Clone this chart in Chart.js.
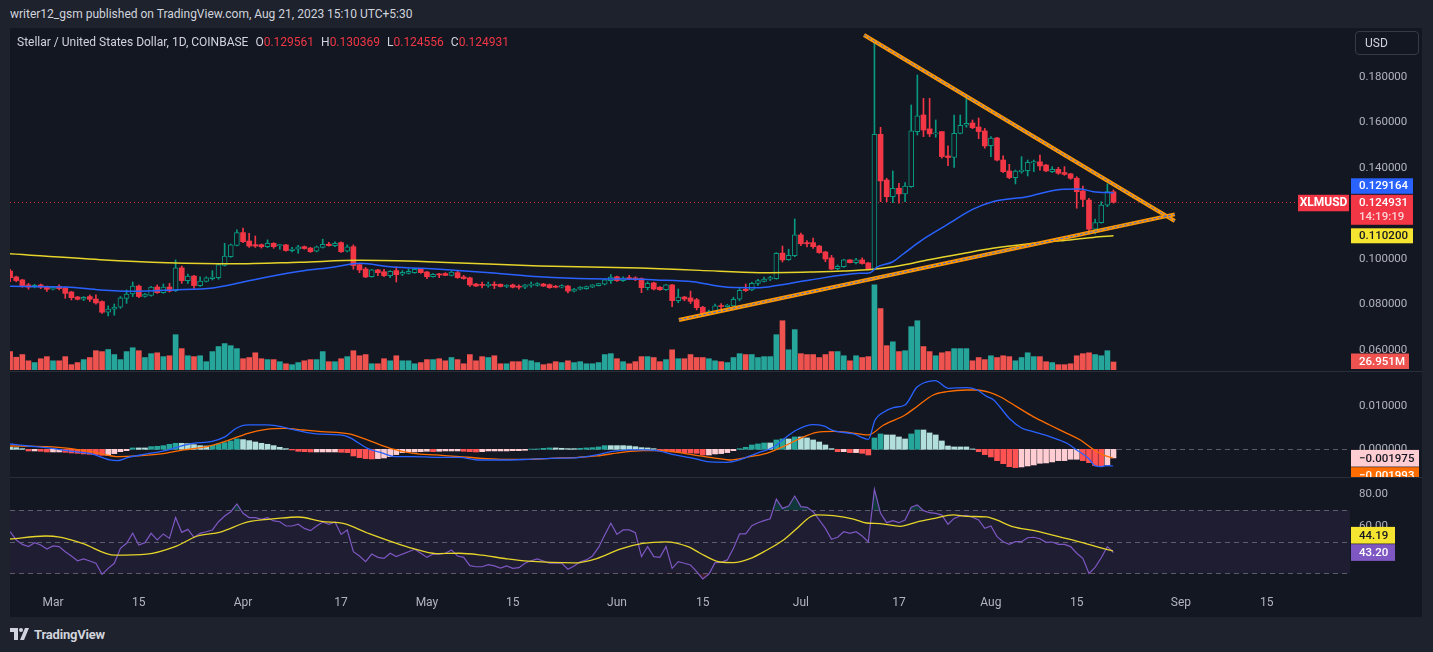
<!DOCTYPE html>
<html>
<head>
<meta charset="utf-8">
<title>XLMUSD 1D</title>
<script src="https://cdn.jsdelivr.net/npm/chart.js@4.4.1/dist/chart.umd.min.js"></script>
<style>
  html, body { margin: 0; padding: 0; }
  body { width: 1433px; height: 652px; background: #1e222d; position: relative; overflow: hidden;
         font-family: Roboto, "Liberation Sans", sans-serif; }
  #published { position: absolute; left: 10px; top: 5px; font-size: 12px; line-height: 18px; color: #d1d4dc; }
  #frame { position: absolute; left: 10px; top: 28px; width: 1412px; height: 589px; background: #131722; }
  #frame canvas { position: absolute; left: 0; }
  .sep { position: absolute; left: 0; width: 1412px; height: 1px; background: #2a2e39; }
  #legend { position: absolute; left: 7px; top: 6px; font-size: 12px; line-height: 16px; color: #d1d4dc; white-space: nowrap; }
  #legend .v { color: #f23645; }
  #legend .g { margin-left: 7px; }
  #usd { position: absolute; left: 1345px; top: 3px; width: 64px; height: 24px; box-sizing: border-box;
         border: 1px solid #363a45; border-radius: 4px; color: #d1d4dc; font-size: 12px; line-height: 22px; padding-left: 9px; }
  #brand { position: absolute; left: 10px; top: 626px; height: 16px; display: flex; align-items: center;
           color: #d1d4dc; font-size: 13px; font-weight: 700; letter-spacing: -0.2px; }
  #brand svg { margin-right: 4px; }
</style>
</head>
<body>
<div id="published">writer12_gsm published on TradingView.com, Aug 21, 2023 15:10 UTC+5:30</div>
<div id="frame">
  <canvas id="mainChart" width="1412" height="342" style="top:0"></canvas>
  <div class="sep" style="top:343px"></div>
  <canvas id="macdChart" width="1412" height="105" style="top:344px"></canvas>
  <div class="sep" style="top:449px"></div>
  <canvas id="rsiChart" width="1412" height="139" style="top:450px"></canvas>
  <div id="legend">Stellar / United States Dollar, 1D, COINBASE<span class="g">O<span class="v">0.129561</span></span><span class="g">H<span class="v">0.130369</span></span><span class="g">L<span class="v">0.124556</span></span><span class="g">C<span class="v">0.124931</span></span></div>
  <div id="usd">USD</div>
</div>
<div id="brand"><svg width="20" height="12" viewBox="0 0 20 12"><rect x="0" y="0" width="8" height="4" fill="#d1d4dc"/><rect x="4" y="0" width="4" height="12" fill="#d1d4dc"/><circle cx="11" cy="2" r="2" fill="#d1d4dc"/><polygon points="15,0 19,0 14,12 10,12" fill="#d1d4dc"/></svg>TradingView</div>

<script>
// days are counted from Mar 1 2023; first candle is Feb 22
const firstDay = -7;

const opens = [
  0.0947,0.0921,0.0908,0.0886,0.0876,0.0886,0.0879,0.0867,0.0880,0.0873,
  0.0855,0.0833,0.0823,0.0835,0.0824,0.0813,0.0766,0.0779,0.0788,0.0827,
  0.0846,0.0881,0.0836,0.0840,0.0877,0.0852,0.0877,0.0861,0.0961,0.0905,
  0.0925,0.0883,0.0902,0.0914,0.0918,0.0972,0.1010,0.1060,0.1116,0.1079,
  0.1063,0.1063,0.1054,0.1069,0.1059,0.1062,0.1037,0.1043,0.1054,0.1048,
  0.1034,0.1051,0.1065,0.1059,0.1072,0.1034,0.1054,0.0975,0.0956,0.0922,
  0.0952,0.0944,0.0927,0.0949,0.0933,0.0937,0.0940,0.0955,0.0943,0.0922,
  0.0934,0.0936,0.0928,0.0940,0.0921,0.0917,0.0890,0.0887,0.0883,0.0889,
  0.0889,0.0879,0.0886,0.0879,0.0876,0.0884,0.0884,0.0890,0.0887,0.0880,
  0.0876,0.0881,0.0859,0.0867,0.0870,0.0876,0.0883,0.0889,0.0905,0.0922,
  0.0905,0.0918,0.0917,0.0914,0.0874,0.0895,0.0876,0.0865,0.0886,0.0817,
  0.0833,0.0829,0.0821,0.0788,0.0761,0.0769,0.0794,0.0791,0.0794,0.0823,
  0.0867,0.0864,0.0893,0.0902,0.0911,0.0914,0.1026,0.0997,0.1015,0.1106,
  0.1072,0.1072,0.1057,0.1031,0.1005,0.0958,0.0966,0.0996,0.0984,0.0996,
  0.0983,0.0955,0.1548,0.1347,0.1274,0.1311,0.1286,0.1318,0.1560,0.1633,
  0.1572,0.1550,0.1560,0.1453,0.1446,0.1552,0.1588,0.1598,0.1580,0.1563,
  0.1498,0.1532,0.1435,0.1387,0.1358,0.1384,0.1388,0.1422,0.1427,0.1413,
  0.1384,0.1394,0.1380,0.1374,0.1355,0.1299,0.1259,0.1131,0.1160,0.1237,0.129561
];
const highs = [
  0.0955,0.0925,0.0911,0.0893,0.0889,0.0890,0.0881,0.0880,0.0887,0.0876,
  0.0858,0.0836,0.0835,0.0842,0.0842,0.0816,0.0794,0.0802,0.0835,0.0864,
  0.0899,0.0886,0.0849,0.0880,0.0886,0.0890,0.0893,0.0996,0.0969,0.0934,
  0.0928,0.0922,0.0922,0.0949,0.0981,0.1069,0.1066,0.1128,0.1136,0.1113,
  0.1101,0.1066,0.1084,0.1072,0.1065,0.1065,0.1051,0.1060,0.1057,0.1051,
  0.1057,0.1087,0.1073,0.1076,0.1075,0.1062,0.1062,0.0981,0.0963,0.0955,
  0.0955,0.0955,0.0949,0.0966,0.0949,0.0956,0.0958,0.0958,0.0946,0.0936,
  0.0937,0.0940,0.0946,0.0946,0.0928,0.0920,0.0893,0.0899,0.0899,0.0900,
  0.0890,0.0887,0.0890,0.0887,0.0889,0.0899,0.0896,0.0893,0.0890,0.0884,
  0.0887,0.0884,0.0871,0.0879,0.0881,0.0887,0.0893,0.0911,0.0931,0.0925,
  0.0922,0.0928,0.0922,0.0917,0.0900,0.0898,0.0879,0.0889,0.0889,0.0868,
  0.0836,0.0859,0.0827,0.0792,0.0776,0.0802,0.0804,0.0801,0.0832,0.0870,
  0.0890,0.0898,0.0911,0.0920,0.0924,0.1028,0.1057,0.1043,0.1176,0.1114,
  0.1081,0.1092,0.1060,0.1034,0.1016,0.0974,0.0999,0.0997,0.1003,0.1005,
  0.0985,0.1955,0.1579,0.1355,0.1387,0.1333,0.1336,0.1677,0.1809,0.1706,
  0.1706,0.1611,0.1560,0.1497,0.1633,0.1633,0.1706,0.1611,0.1620,0.1574,
  0.1538,0.1535,0.1453,0.1416,0.1391,0.1450,0.1435,0.1435,0.1457,0.1416,
  0.1406,0.1403,0.1406,0.1377,0.1362,0.1321,0.1267,0.1175,0.1252,0.1330,0.130369
];
const lows = [
  0.0900,0.0900,0.0876,0.0867,0.0873,0.0870,0.0857,0.0864,0.0864,0.0827,
  0.0820,0.0820,0.0817,0.0813,0.0802,0.0761,0.0750,0.0753,0.0783,0.0805,
  0.0835,0.0830,0.0832,0.0837,0.0849,0.0849,0.0855,0.0857,0.0893,0.0893,
  0.0871,0.0880,0.0899,0.0908,0.0911,0.0969,0.1007,0.1057,0.1072,0.1051,
  0.1051,0.1048,0.1050,0.1047,0.1043,0.1034,0.1031,0.1025,0.1043,0.1029,
  0.1031,0.1048,0.1056,0.1054,0.1029,0.1031,0.0955,0.0940,0.0918,0.0920,
  0.0927,0.0922,0.0918,0.0899,0.0927,0.0934,0.0937,0.0937,0.0914,0.0920,
  0.0918,0.0927,0.0925,0.0915,0.0911,0.0879,0.0879,0.0873,0.0876,0.0870,
  0.0877,0.0874,0.0873,0.0867,0.0870,0.0876,0.0881,0.0879,0.0871,0.0873,
  0.0873,0.0851,0.0855,0.0864,0.0867,0.0874,0.0881,0.0886,0.0893,0.0902,
  0.0902,0.0909,0.0905,0.0852,0.0864,0.0864,0.0862,0.0862,0.0791,0.0808,
  0.0816,0.0804,0.0776,0.0751,0.0754,0.0766,0.0779,0.0788,0.0791,0.0817,
  0.0857,0.0861,0.0884,0.0899,0.0905,0.0911,0.0987,0.0994,0.1010,0.1059,
  0.1053,0.1046,0.1025,0.0988,0.0953,0.0952,0.0963,0.0983,0.0978,0.0977,
  0.0953,0.0952,0.1252,0.1252,0.1248,0.1245,0.1252,0.1315,0.1545,0.1538,
  0.1538,0.1535,0.1443,0.1410,0.1403,0.1550,0.1579,0.1573,0.1529,0.1487,
  0.1450,0.1431,0.1380,0.1353,0.1330,0.1377,0.1365,0.1384,0.1391,0.1384,
  0.1380,0.1372,0.1368,0.1350,0.1223,0.1230,0.1110,0.1110,0.1157,0.1230,0.124556
];
const closes = [
  0.0918,0.0905,0.0883,0.0876,0.0884,0.0876,0.0867,0.0877,0.0870,0.0849,
  0.0830,0.0823,0.0832,0.0823,0.0807,0.0766,0.0780,0.0789,0.0829,0.0846,
  0.0881,0.0835,0.0846,0.0877,0.0852,0.0877,0.0859,0.0961,0.0905,0.0925,
  0.0883,0.0903,0.0917,0.0921,0.0975,0.1013,0.1062,0.1116,0.1076,0.1057,
  0.1057,0.1054,0.1069,0.1054,0.1062,0.1037,0.1044,0.1053,0.1046,0.1032,
  0.1054,0.1065,0.1059,0.1069,0.1032,0.1054,0.0971,0.0952,0.0921,0.0952,
  0.0940,0.0927,0.0946,0.0931,0.0941,0.0946,0.0955,0.0940,0.0922,0.0933,
  0.0930,0.0928,0.0943,0.0918,0.0914,0.0886,0.0881,0.0884,0.0889,0.0884,
  0.0879,0.0884,0.0876,0.0876,0.0886,0.0889,0.0892,0.0881,0.0874,0.0876,
  0.0883,0.0859,0.0868,0.0877,0.0879,0.0886,0.0892,0.0908,0.0921,0.0905,
  0.0917,0.0912,0.0909,0.0874,0.0893,0.0868,0.0865,0.0886,0.0817,0.0833,
  0.0824,0.0814,0.0786,0.0754,0.0769,0.0794,0.0791,0.0798,0.0823,0.0862,
  0.0861,0.0893,0.0905,0.0912,0.0918,0.1025,0.0996,0.1016,0.1106,0.1067,
  0.1067,0.1054,0.1028,0.1000,0.0956,0.0968,0.0996,0.0984,0.0996,0.0980,
  0.0956,0.1548,0.1343,0.1274,0.1311,0.1286,0.1321,0.1563,0.1629,0.1567,
  0.1550,0.1555,0.1450,0.1446,0.1552,0.1588,0.1596,0.1577,0.1560,0.1497,
  0.1531,0.1435,0.1384,0.1358,0.1387,0.1391,0.1425,0.1428,0.1409,0.1387,
  0.1394,0.1377,0.1372,0.1355,0.1296,0.1262,0.1131,0.1160,0.1237,0.1296,0.124931
];
// volume, millions
const volumes = [
  62,43,52,31,25,38,45,31,31,45, 18,25,35,42,65,62,69,52,35,62,
  75,65,42,55,58,45,48,119,72,48, 45,48,28,62,79,89,82,72,38,42,
  58,38,35,35,28,21,18,25,31,35, 35,62,28,28,38,45,65,48,52,21,
  21,38,31,48,31,31,21,25,35,35, 38,31,42,35,21,52,31,45,42,48,
  21,21,28,28,35,31,25,18,21,28, 25,31,25,28,21,21,25,52,55,38,
  28,21,28,45,45,42,28,35,68,38, 38,52,42,42,38,31,28,25,42,55,
  52,52,42,45,45,119,166,68,136,55, 52,52,42,52,62,62,48,31,48,42,
  45,287,207,82,95,62,65,146,166,79, 62,48,58,62,72,72,72,31,42,35,
  48,42,48,45,31,42,58,45,45,28, 25,18,18,21,48,55,58,52,48,65, 26.951
];

// moving averages on price, [day, value]
const maBlue = [[-7,0.0880],[2.2,0.0877],[7.7,0.0864],[13.1,0.0858],[19.6,0.0864],[26.1,0.0873],[29.4,0.0889],
  [32.6,0.0908],[40.3,0.0946],[45.7,0.0964],[50.1,0.0981],[55,0.0966],[63.1,0.0955],[71.3,0.0940],[79.4,0.0922],
  [87.6,0.0913],[93,0.0912],[98.5,0.0908],[104.4,0.0900],[110,0.0876],[115.3,0.0874],[118.1,0.0884],[123.5,0.0908],
  [131.6,0.0937],[133.3,0.0940],[134.4,0.0964],[137,0.0988],[138.7,0.1022],[141.4,0.1076],[142.6,0.1098],
  [145.8,0.1150],[150.1,0.1219],[153.3,0.1252],[158.9,0.1274],[164.3,0.1306],[167.5,0.1308],[169.7,0.1296],[173,0.129164]];
const maYellow = [[-7,0.1023],[7.7,0.0997],[18.6,0.0984],[29.4,0.0979],[40.3,0.0986],[50.1,0.0994],[63.1,0.0986],
  [79.4,0.0969],[95.8,0.0960],[105.5,0.0950],[115.3,0.0940],[123.5,0.0943],[128.9,0.0947],[133.8,0.0955],
  [138.7,0.0974],[142.6,0.0996],[148,0.1022],[153.3,0.1047],[158.9,0.1066],[164.3,0.1080],[169.7,0.1095],[173,0.1102]];

// hand drawn trend lines, [day, price]
const trendUpper = [[132.3,0.1985],[183,0.1167]];
const trendLower = [[102.1,0.0732],[183,0.1196]];

// MACD, in units of 1e-4
const macdHist = [
  4.6,3.8,1.5,-3.8,-3.8,-4.6,-6.1,
  -6.1,-6.1,-6.9,-8.4,-9.2,-10.7,-11.5,-12.2,-13.8,-13.8,
  -9.9,-5.4,-3.1,3.1,3.1,3.1,6.1,6.9,8.4,11.5,
  13.8,13.8,13,10.7,8.4,7.6,9.2,12.2,15.3,19.1,
  23.7,22.2,19.9,16.8,13.8,11.5,8.4,4.6,1.5,-1.5,
  -4.6,-5.4,-6.1,-6.1,-6.1,-6.1,-6.1,-6.9,-7.6,-15.3,
  -19.1,-21.4,-22.2,-21.4,-19.9,-16.8,-12.2,-7.6,-6.1,-6.1,
  -5.4,-4.6,-5.4,-4.6,-3.8,-3.8,-3.8,-4.6,-5.4,-6.1,
  -5.4,-3.8,-3.8,-3.8,-3.8,-3.1,-3.1,-2.3,0.5,0.8,
  2.3,3.1,3.1,2.3,1.5,1.5,2.3,3.1,3.8,5.4,
  8.4,8.4,8.4,8.4,7.6,6.1,3.8,3.1,1.5,-3.8,
  -4.6,-6.1,-6.9,-7.6,-8.4,-9.2,-13,-13,-10.7,-9.9,
  -7.6,-3.1,1.5,4.6,9.9,12.2,14.5,14.5,21.4,23.7,
  23.7,28.3,28.3,26,21.4,16.8,9.9,1.5,-5.4,-5.4,
  -7.6,-7.6,-9.2,-13,26,35.2,32.9,32.9,28.3,23.7,
  35.2,44.3,44.3,37.5,32.9,19.1,7.6,5.4,5.4,5.4,
  0.8,-5.4,-12.2,-17.6,-26,-32.9,-39.8,-42,-40.5,-38.2,
  -35.9,-32.1,-31.3,-29,-26,-26,-22.9,-22.9,-26,-30.6,
  -37.5,-38.2,-35.2,-19.75
];
const macdLine = [[-7,12.2],[-4.1,7.6],[-1.2,3.8],[2.6,-3.8],[6.3,-10.7],[9.3,-24.5],[10.5,-26],[12.3,-18.3],
  [15.3,-10.7],[18.3,-3.1],[20.6,6.1],[22.8,13.8],[25.8,17.6],[28.1,29],[29.9,48.2],[31.8,55.8],[34.8,55.8],
  [36.3,54.3],[40,42.8],[43,35.2],[46.8,32.9],[48.3,27.5],[51.3,2.3],[53.5,-7.6],[55.8,-16.8],[58.8,-16.8],
  [62.5,-18.3],[66.3,-18.3],[69.3,-24.5],[73.7,-24.5],[77.5,-23],[81.2,-20.6],[85.7,-19.1],[88.7,-13],[91,-5.4],
  [94,-1.5],[96.2,-1.5],[98.5,-3.1],[101.5,-13],[104.5,-20.6],[106.7,-28.3],[109.9,-29.8],[112.1,-23.7],
  [114.8,-9.2],[117.5,4.6],[119.7,29],[121.3,44.3],[124,56.6],[125.7,53.5],[127.3,42.8],[130.6,35.2],[133,22.9],
  [134.1,67.3],[135.2,82.6],[137.1,95.6],[139,101.7],[140.9,142.2],[142.3,153.7],[143.9,157.5],[146.1,139.9],
  [149,141.4],[150.7,136.6],[152.3,121.3],[153.4,113.7],[156.1,69.5],[158,48.9],[159.9,40.5],[162.6,29],
  [165.4,13.8],[167,-1.5],[168.9,-20.6],[170,-38.2],[171,-39.8],[171.9,-37.5],[172.9,-38.2]];
const signalLine = [[-7,7.6],[-1.2,6.1],[2.6,2.3],[6.3,-5.4],[10.8,-16.8],[13.8,-15.3],[17.6,-10.7],[21.3,-1.5],
  [25.1,6.1],[28.8,21.4],[31.8,36.7],[34.8,45.9],[37.8,48.2],[40.8,44.3],[43.8,40.5],[48.3,35.2],[51.3,21.4],
  [55,2.3],[58.8,-9.2],[62.5,-13],[66.3,-16.8],[70,-20.6],[73.7,-23],[77.5,-23],[81.2,-20.6],[85.7,-18.3],
  [88.7,-15.3],[92.5,-7.6],[96.2,-3.1],[99.2,-3.1],[102.2,-7.6],[105.5,-15.3],[108.3,-20.6],[110.4,-24.5],
  [113.7,-16.8],[116.4,-9.2],[119.1,6.1],[121.9,25.2],[124.6,39],[127.3,41.3],[130,38.2],[133,32.9],[135.5,55.8],
  [139,78.7],[140.9,97.8],[143.6,124.6],[145.8,132.2],[149,136],[150.7,136],[152.9,130],[154.5,120.6],
  [157.2,97.8],[159.9,74.9],[162.6,55.8],[165.4,36.7],[167.6,21.4],[169.7,0],[171.3,-13],[172.9,-19.93]];

// RSI, one value per candle
const rsi = [
  56.3,51.1,48.3,46.9,49.4,47.9,45.4,
  47.3,46.9,43.7,41,38,39.1,37.8,36.4,29.4,33.2,
  36.4,45.8,49,55.3,47.9,49.4,55.3,51.1,54.9,52.1,
  65.2,55.9,57.8,52.8,55.3,56.3,57.4,62.6,66.2,68.9,
  73.8,67.9,65.2,65.2,64.1,65.2,63.1,62.6,59.9,59.9,
  61,58.4,57,59.9,62.4,61,62.4,54.6,57.4,43.7,
  41,37.4,42.2,40.1,39.5,42.7,40.6,42.2,43.7,45.2,
  42.7,40.1,42.2,42.2,42.7,44.8,41,40.1,34.9,34.2,
  34.2,35.5,34.7,33.4,34.7,33.2,33.6,36.4,38,39.1,
  37.8,36.4,36.4,36.4,32.6,34.7,37.4,38.5,41,46.4,
  54.2,61.6,54.6,57.4,57.4,55.7,40.6,46.9,40.6,40.1,
  46.9,33.2,37.4,36.4,35.3,31.1,26.5,29.6,36.8,37,
  38.5,45.8,54.9,54.9,60.1,62,63.3,64.5,76.9,71,
  72.5,78.8,72.1,71.7,68.9,63.7,58.4,51.5,52.8,56.3,
  55.3,56.3,53.6,49.8,83,67.9,62,63.3,62,63.7,
  71.7,73.2,69.6,68.3,67.9,66.8,61,64.7,66.2,66.6,
  65.4,63.7,58.4,59.9,53.2,50,48.3,50,50,52.5,
  52.8,51.9,49.6,49.8,48.3,48.3,46.9,42.7,39.5,30,
  33.8,39.9,46.9,43.2
];
const rsiMa = [[-7,51.7],[-1.2,53.6],[1.1,52.9],[4.8,48.9],[10.1,41.5],[15.3,42.1],[19.8,46.7],[23.6,53.6],
  [27.3,56.1],[31.8,62.5],[36.3,64.5],[40,65.6],[43.8,62.8],[47.5,61.4],[51.3,55.5],[58.8,45.6],[62.5,42.5],
  [66.3,42.7],[70,41.5],[73.7,39.4],[77.5,37.7],[85,36.6],[88.7,39.4],[92.5,45.3],[96.2,48.9],[100,49.9],
  [103.7,46.7],[105.5,42.9],[108.8,37.2],[111,36.8],[113.7,39.3],[116.4,44.6],[119.1,50.9],[121.3,58.2],
  [123.5,65.6],[124.6,66.9],[127.3,66.4],[130.6,64.3],[132.7,61.8],[134.9,61.4],[138.2,59.7],[140.9,62.4],
  [143.6,64.5],[146.9,66.9],[149,66],[152.3,65.6],[153.4,64.5],[156.7,59.3],[159.9,57.1],[165.4,51.9],
  [168.1,49.2],[170.8,46.2],[172.9,44.19]];

const tickDays = [0, 14, 31, 47, 61, 75, 92, 106, 122, 138, 153, 167, 184, 198];
const tickLabels = ['Mar', '15', 'Apr', '17', 'May', '15', 'Jun', '15', 'Jul', '17', 'Aug', '15', 'Sep', '15'];
const priceTicks = [0.06, 0.08, 0.10, 0.12, 0.14, 0.16, 0.18];
const macdTicks = [0, 100];
const rsiTicks = [40, 60, 80];
const countdown = '14:19:19';

const FONT = 'Roboto, "Liberation Sans", sans-serif';
const AXIS_TEXT = '#b2b5be';
const BG = '#131722';
const UP = '#089981';
const DOWN = '#f23645';
const X_MIN = -7.015, X_MAX = 211.58;

const days = opens.map((_, i) => firstDay + i);
const isUp = opens.map((o, i) => closes[i] >= o);
const pts = arr => arr.map(([x, y]) => ({ x, y }));
const last = arr => arr[arr.length - 1];
const fmt6 = v => (v < 0 ? '\u2212' : '') + Math.abs(v).toFixed(6);

function xAxis(show) {
  const axis = {
    type: 'linear', min: X_MIN, max: X_MAX, offset: false, display: show,
    grid: { display: false, drawTicks: false }, border: { display: false },
    afterBuildTicks: s => { s.ticks = tickDays.map(v => ({ value: v })); },
    ticks: { autoSkip: false, maxRotation: 0, minRotation: 0, color: AXIS_TEXT, padding: 6,
             font: { family: FONT, size: 12 }, callback: (v, i) => tickLabels[i] }
  };
  if (show) axis.afterFit = s => { s.height = 27; s.paddingLeft = 0; s.paddingRight = 0; };
  return axis;
}

function rightAxis(min, max, values, fmt) {
  return {
    position: 'right', min, max,
    grid: { display: false, drawTicks: false }, border: { display: false },
    afterBuildTicks: s => { s.ticks = values.map(v => ({ value: v })); },
    afterFit: s => { s.width = 72; s.paddingTop = 0; s.paddingBottom = 0; },
    ticks: { color: AXIS_TEXT, padding: 9, font: { family: FONT, size: 11.5 }, callback: fmt }
  };
}

const baseOptions = {
  responsive: false, animation: false, devicePixelRatio: 1, events: [],
  layout: { padding: 0 },
  plugins: { legend: { display: false }, tooltip: { enabled: false } }
};

function tag(ctx, x, top, w, h, bg, fg, text) {
  ctx.fillStyle = bg;
  ctx.fillRect(x, top, w, h);
  ctx.fillStyle = fg;
  ctx.font = '500 11.5px ' + FONT;
  ctx.textAlign = 'left';
  ctx.textBaseline = 'middle';
  ctx.fillText(text, x + 8, top + h / 2 + 0.5);
}

function hLine(ctx, a, y, color, dash) {
  const yy = Math.round(y) + 0.5;
  ctx.save();
  ctx.strokeStyle = color;
  ctx.lineWidth = 1;
  ctx.setLineDash(dash);
  ctx.beginPath();
  ctx.moveTo(a.left, yy);
  ctx.lineTo(a.right, yy);
  ctx.stroke();
  ctx.restore();
}

// ---------- main pane ----------
const mainOverlay = {
  id: 'mainOverlay',
  beforeDatasetsDraw(c) {
    const { ctx, chartArea: a, scales } = c;
    const yc = scales.y.getPixelForValue(last(closes));
    hLine(ctx, { left: a.left, right: a.right - 52 }, yc, 'rgba(242,54,69,0.8)', [1, 3]);
  },
  afterDraw(c) {
    const { ctx, chartArea: a, scales } = c;
    const x0 = a.right + 1;
    const yc = scales.y.getPixelForValue(last(closes));
    const redTop = yc - 7.5;
    ctx.save();
    ctx.fillStyle = DOWN;
    ctx.fillRect(x0, redTop, 62, 30);
    ctx.font = '500 11.5px ' + FONT;
    ctx.textBaseline = 'middle';
    ctx.fillStyle = '#ffffff';
    ctx.fillText(fmt6(last(closes)), x0 + 8, yc + 1);
    ctx.fillStyle = 'rgba(255,255,255,0.78)';
    ctx.fillText(countdown, x0 + 8, yc + 15);
    tag(ctx, x0, redTop - 16.5, 62, 15.5, '#2962ff', '#ffffff', fmt6(last(maBlue)[1]));
    const ym = scales.y.getPixelForValue(last(maYellow)[1]);
    tag(ctx, x0, ym - 7.5, 62, 15, '#f5e430', BG, fmt6(last(maYellow)[1]));
    const yv = scales.vol.getPixelForValue(last(volumes));
    tag(ctx, x0, yv - 8.5, 58, 15.5, '#ef5350', '#ffffff', last(volumes).toFixed(3) + 'M');
    ctx.fillStyle = DOWN;
    ctx.fillRect(a.right - 52, redTop, 51, 16.5);
    ctx.fillStyle = '#ffffff';
    ctx.font = '700 12px ' + FONT;
    ctx.textAlign = 'center';
    ctx.fillText('XLMUSD', a.right - 26.5, redTop + 8.7);
    ctx.restore();
  }
};

new Chart(document.getElementById('mainChart'), {
  type: 'bar',
  data: {
    datasets: [
      { type: 'bar', yAxisID: 'vol', order: 10, grouped: false, barThickness: 5,
        data: days.map((d, i) => ({ x: d, y: volumes[i] })),
        backgroundColor: isUp.map(u => u ? '#26a69a' : '#ef5350') },
      { type: 'bar', yAxisID: 'y', order: 6, grouped: false, barThickness: 1,
        data: days.map((d, i) => ({ x: d, y: [lows[i], highs[i]] })),
        backgroundColor: isUp.map(u => u ? UP : DOWN) },
      { type: 'bar', yAxisID: 'y', order: 5, grouped: false, barThickness: 5, minBarLength: 1, borderSkipped: false,
        data: days.map((d, i) => ({ x: d, y: [opens[i], closes[i]] })),
        backgroundColor: isUp.map(u => u ? BG : DOWN),
        borderColor: isUp.map(u => u ? UP : DOWN),
        borderWidth: isUp.map(u => u ? 1 : 0) },
      { type: 'line', yAxisID: 'y', order: 4, data: pts(maYellow), borderColor: '#e6d42a', borderWidth: 1.5,
        pointRadius: 0, cubicInterpolationMode: 'monotone' },
      { type: 'line', yAxisID: 'y', order: 3, data: pts(maBlue), borderColor: '#2962ff', borderWidth: 1.5,
        pointRadius: 0, cubicInterpolationMode: 'monotone' },
      { type: 'line', yAxisID: 'y', order: 2, data: pts(trendUpper), borderColor: '#ff9800', borderWidth: 4, pointRadius: 0 },
      { type: 'line', yAxisID: 'y', order: 2, data: pts(trendLower), borderColor: '#ff9800', borderWidth: 4, pointRadius: 0 },
      { type: 'line', yAxisID: 'y', order: 1, data: pts(trendUpper), borderColor: '#4a6bd8', borderWidth: 1, borderDash: [3, 2], pointRadius: 0 },
      { type: 'line', yAxisID: 'y', order: 1, data: pts(trendLower), borderColor: '#4a6bd8', borderWidth: 1, borderDash: [3, 2], pointRadius: 0 }
    ]
  },
  options: {
    ...baseOptions,
    scales: {
      x: xAxis(false),
      y: rightAxis(0.051209, 0.201538, priceTicks, v => v.toFixed(6)),
      vol: { display: false, min: 0, max: 1152.5 }
    }
  },
  plugins: [mainOverlay]
});

// ---------- MACD pane ----------
const histColors = macdHist.map((h, i) => {
  const prev = i > 0 ? macdHist[i - 1] : h;
  if (h >= 0) return h > prev ? '#26a69a' : '#b2dfdb';
  return h < prev ? '#ff5252' : '#ffcdd2';
});

const macdOverlay = {
  id: 'macdOverlay',
  beforeDatasetsDraw(c) {
    hLine(c.ctx, c.chartArea, c.scales.y.getPixelForValue(0), 'rgba(120,123,134,0.7)', [5, 4]);
  },
  afterDraw(c) {
    const { ctx, chartArea: a, scales } = c;
    const x0 = a.right + 1;
    const yh = scales.y.getPixelForValue(last(macdHist));
    const top = yh - 8;
    ctx.save();
    tag(ctx, x0, top, 68, 16.7, '#ffcdd2', BG, fmt6(last(macdHist) / 1e4));
    tag(ctx, x0, top + 17.3, 68, 16.7, '#ff6d00', '#ffffff', fmt6(last(signalLine)[1] / 1e4));
    ctx.restore();
  }
};

new Chart(document.getElementById('macdChart'), {
  type: 'bar',
  data: {
    datasets: [
      { type: 'bar', order: 3, grouped: false, barThickness: 5,
        data: days.map((d, i) => ({ x: d, y: macdHist[i] })), backgroundColor: histColors },
      { type: 'line', order: 2, data: pts(signalLine), borderColor: '#ff6d00', borderWidth: 1.3,
        pointRadius: 0, cubicInterpolationMode: 'monotone' },
      { type: 'line', order: 1, data: pts(macdLine), borderColor: '#2962ff', borderWidth: 1.3,
        pointRadius: 0, cubicInterpolationMode: 'monotone' }
    ]
  },
  options: {
    ...baseOptions,
    scales: {
      x: xAxis(false),
      y: rightAxis(-63.53, 177.29, macdTicks, v => (v / 1e4).toFixed(6))
    }
  },
  plugins: [macdOverlay]
});

// ---------- RSI pane ----------
const rsiOverlay = {
  id: 'rsiOverlay',
  beforeDatasetsDraw(c) {
    const { ctx, chartArea: a, scales: { y } } = c;
    const y70 = y.getPixelForValue(70), y30 = y.getPixelForValue(30);
    ctx.save();
    ctx.fillStyle = 'rgba(126,87,194,0.1)';
    ctx.fillRect(a.left, y70, a.right - a.left, y30 - y70);
    ctx.restore();
    [70, 50, 30].forEach(v => hLine(ctx, a, y.getPixelForValue(v), 'rgba(120,123,134,0.7)', [5, 4]));
  },
  afterDraw(c) {
    const { ctx, chartArea: a, scales: { y } } = c;
    const x0 = a.right + 1;
    const yr = y.getPixelForValue(last(rsi));
    const top = yr - 8.3;
    ctx.save();
    tag(ctx, x0, top, 44, 16.7, '#7e57c2', '#ffffff', last(rsi).toFixed(2));
    tag(ctx, x0, top - 17.3, 44, 16.7, '#f5e430', BG, last(rsiMa)[1].toFixed(2));
    ctx.restore();
  }
};

const rsiPoints = days.map((d, i) => ({ x: d, y: rsi[i] }));

new Chart(document.getElementById('rsiChart'), {
  type: 'line',
  data: {
    datasets: [
      { order: 3, data: rsiPoints, borderWidth: 0, pointRadius: 0,
        fill: { value: 30, below: 'rgba(242,54,69,0.2)', above: 'rgba(0,0,0,0)' } },
      { order: 2, data: rsiPoints, borderColor: '#7e57c2', borderWidth: 1.2, pointRadius: 0, tension: 0,
        fill: { value: 70, above: 'rgba(8,153,129,0.25)', below: 'rgba(0,0,0,0)' } },
      { order: 1, data: pts(rsiMa), borderColor: '#e6d42a', borderWidth: 1.3, pointRadius: 0,
        cubicInterpolationMode: 'monotone' }
    ]
  },
  options: {
    ...baseOptions,
    scales: {
      x: xAxis(true),
      y: rightAxis(19.53, 90.19, rsiTicks, v => v.toFixed(2))
    }
  },
  plugins: [rsiOverlay]
});
</script>
</body>
</html>
